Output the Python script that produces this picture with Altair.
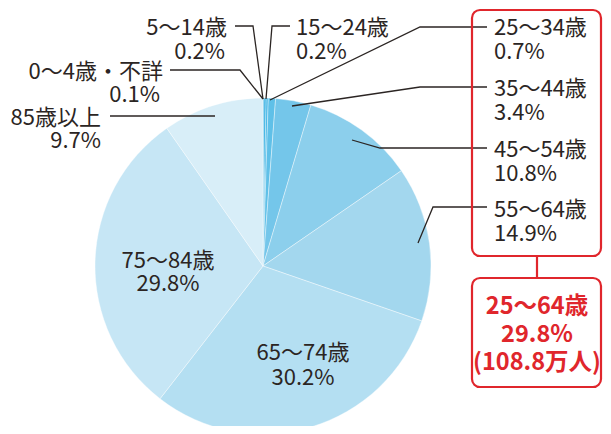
import altair as alt
import pandas as pd

# ---- data ----
categories = ["0～4歳・不詳", "5～14歳", "15～24歳", "25～34歳", "35～44歳",
              "45～54歳", "55～64歳", "65～74歳", "75～84歳", "85歳以上"]
shares = [0.1, 0.2, 0.2, 0.7, 3.4, 10.8, 14.9, 30.2, 29.8, 9.7]
colors = ["#1aa3dc", "#2eaee3", "#3db4e5", "#5fc0e8", "#74c6ea",
          "#8ccfec", "#a3d7ee", "#b4dff2", "#c6e6f5", "#d8eef8"]

group_lines = ["25～64歳", "29.8%", "(108.8万人)"]

# ---- layout (reference pixel coordinates) ----
name_pos = [(163, 72, "right"), (227, 28, "right"), (296, 28, "left"),
            (494, 28, "left"), (494, 89, "left"), (494, 150, "left"),
            (494, 210, "left"), (303, 353, "center"), (168, 261, "center"),
            (101, 118, "right")]
pct_pos = [(160, 95, "right"), (225, 52, "right"), (296, 52, "left"),
           (494, 52, "left"), (494, 113, "left"), (494, 174, "left"),
           (494, 234, "left"), (303, 378, "center"), (168, 284, "center"),
           (101, 141, "right")]
leaders = [
    [(170, 70), (240, 70), (263, 99)],
    [(235, 26), (253, 26), (263, 99)],
    [(290, 26), (272, 26), (266, 99)],
    [(270, 100), (420, 27), (487, 27)],
    [(292, 106), (420, 87), (487, 87)],
    [(352, 140), (380, 148), (487, 148)],
    [(418, 243), (433, 207), (487, 207)],
    [(110, 116), (215, 116)],
]
CX, CY, R = 263, 266, 168
red = "#e0262c"
ink = "#2b2523"
font = "Noto Sans CJK JP"

xs = alt.Scale(domain=[8, 603], nice=False, zero=False)
ys = alt.Scale(domain=[8, 426], reverse=True, nice=False, zero=False)

pie_df = pd.DataFrame({"cat": categories, "v": shares, "o": list(range(len(shares)))})
pie = alt.Chart(pie_df).mark_arc(outerRadius=R, stroke="white", strokeWidth=0.4).encode(
    x=alt.datum(CX, scale=xs, axis=None),
    y=alt.datum(CY, scale=ys, axis=None),
    theta=alt.Theta("v:Q", stack=True),
    order=alt.Order("o:Q"),
    color=alt.Color("cat:N", scale=alt.Scale(domain=categories, range=colors), legend=None),
)

rows = []
for i, c in enumerate(categories):
    rows.append({"t": c, "x": name_pos[i][0], "y": name_pos[i][1], "a": name_pos[i][2]})
    rows.append({"t": f"{shares[i]}%", "x": pct_pos[i][0], "y": pct_pos[i][1], "a": pct_pos[i][2]})
lab_df = pd.DataFrame(rows)

def text_layer(align):
    d = lab_df[lab_df["a"] == align]
    return alt.Chart(d).mark_text(align=align, baseline="middle", font=font,
                                  fontSize=22, color=ink).encode(
        x=alt.X("x:Q", scale=xs, axis=None),
        y=alt.Y("y:Q", scale=ys, axis=None),
        text="t:N")

lrows = []
for k, seg in enumerate(leaders):
    for j, (px, py) in enumerate(seg):
        lrows.append({"id": k, "s": j, "x": px, "y": py})
lines = alt.Chart(pd.DataFrame(lrows)).mark_line(color=ink, strokeWidth=1.3).encode(
    x=alt.X("x:Q", scale=xs, axis=None),
    y=alt.Y("y:Q", scale=ys, axis=None),
    detail="id:N", order="s:Q")

boxes_df = pd.DataFrame({"x": [472, 472], "x2": [601, 601], "y": [10, 278], "y2": [256, 387]})
boxes = alt.Chart(boxes_df).mark_rect(fill=None, fillOpacity=0, stroke=red, strokeWidth=2.2,
                                      cornerRadius=8).encode(
    x=alt.X("x:Q", scale=xs, axis=None), x2="x2:Q",
    y=alt.Y("y:Q", scale=ys, axis=None), y2="y2:Q")
conn = alt.Chart(pd.DataFrame({"x": [537], "y": [256], "y2": [278]})).mark_rule(
    color=red, strokeWidth=2.2).encode(
    x=alt.X("x:Q", scale=xs, axis=None),
    y=alt.Y("y:Q", scale=ys, axis=None), y2="y2:Q")

red_df = pd.DataFrame({"t": group_lines, "x": [537, 537, 537], "y": [307, 335, 363]})
red_text = alt.Chart(red_df).mark_text(align="center", baseline="middle", font=font,
                                       fontSize=23.5, fontWeight="bold", color=red).encode(
    x=alt.X("x:Q", scale=xs, axis=None),
    y=alt.Y("y:Q", scale=ys, axis=None),
    text="t:N")

chart = alt.layer(pie, lines, text_layer("left"), text_layer("right"), text_layer("center"),
                  boxes, conn, red_text).properties(
    width=595, height=418, padding=0, autosize=alt.AutoSizeParams(type="none")
).configure_view(stroke=None)

chart.save("out.html", embed_options={"renderer": "svg", "actions": False})
